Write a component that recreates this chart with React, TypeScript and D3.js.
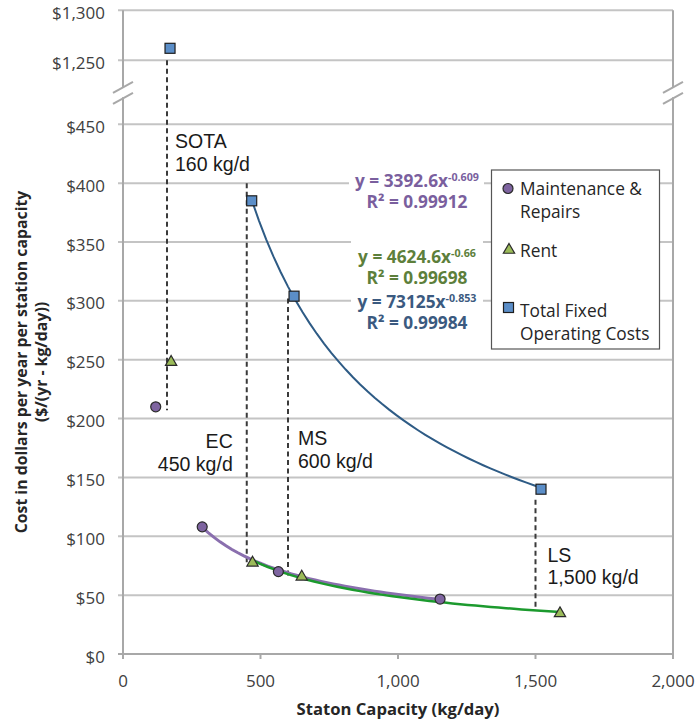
import React, { useEffect, useRef } from 'react';
import * as d3 from 'd3';

// station capacity (kg/day) vs cost ($ per yr per kg/day)
const maintCapacity = [119, 288, 565, 1153];
const maintCost = [210, 108, 70, 46.7];
const rentCapacity = [175, 471, 650, 1589];
const rentCost = [248, 77.5, 65.6, 34.5];
const totalCapacity = [171, 468, 622, 1520];
const totalCost = [1262, 385, 304, 140];

// power-law trendlines as printed: y = a * x^b (SOTA point left out)
const maintFit = { a: 3392.6, b: -0.609, r2: '0.99912' };
const rentFit = { a: 4624.6, b: -0.66, r2: '0.99698' };
const totalFit = { a: 73125, b: -0.853, r2: '0.99984' };

// station reference lines
const stationNames = ['SOTA', 'EC', 'MS', 'LS'];
const stationSizes = ['160 kg/d', '450 kg/d', '600 kg/d', '1,500 kg/d'];
const stationCapacity = [160, 450, 600, 1500];
const stationTop = [1250, 400, 302, 131];
const stationBottom = [207, 78, 65, 37];

const capacityTicks = [0, 500, 1000, 1500, 2000];
const costTicks = [0, 50, 100, 150, 200, 250, 300, 350, 400, 450, 1250, 1300];

const W = 698;
const H = 723;
const calibri = "'Open Sans', Lato, sans-serif";
const arial = "'Liberation Sans', Arial, sans-serif";

function App() {
    const ref = useRef<SVGSVGElement>(null);

    useEffect(() => {
        const svg = d3.select(ref.current);
        svg.selectAll('*').remove();

        // size a font so that a sample string gets the width seen in the original
        const fit = (sample: string, family: string, weight: string, width: number) => {
            const probe = svg.append('text')
                .attr('font-family', family)
                .attr('font-weight', weight)
                .attr('font-size', 20)
                .text(sample);
            const w = (probe.node() as SVGTextElement).getComputedTextLength();
            probe.remove();
            return w > 0 ? 20 * width / w : 16;
        };
        const tickSize = fit('$1,300', calibri, 'normal', 53);
        const xTitleSize = fit('Staton Capacity (kg/day)', calibri, 'bold', 203);
        const yTitleSize = fit('Cost in dollars per year per station capacity', calibri, 'bold', 343);
        const eqSize = fit('R\u00B2 = 0.99912', calibri, 'bold', 101);
        const legendSize = fit('Maintenance &', calibri, 'normal', 122);
        const noteSize = fit('450 kg/d', arial, 'normal', 75);

        const x = d3.scaleLinear().domain([0, 2000]).range([123, 673]);
        // broken axis: 450 -> 1250 squeezed into one gap
        const y = d3.scaleLinear().domain([0, 450, 1250, 1300]).range([654, 124.3, 60.3, 10.3]);

        const gridColor = '#c4c4c4';
        const axisColor = '#a8a8a8';

        // gridlines + y ticks
        svg.append('g').selectAll('line')
            .data(costTicks)
            .enter()
            .append('line')
            .attr('x1', x(0) - 5)
            .attr('x2', x(2000))
            .attr('y1', d => y(d))
            .attr('y2', d => y(d))
            .attr('stroke', d => d === 0 ? axisColor : gridColor)
            .attr('stroke-width', 2);

        svg.append('g').selectAll('text')
            .data(costTicks)
            .enter()
            .append('text')
            .attr('x', x(0) - 18)
            .attr('y', d => y(d) + 2.5)
            .attr('dy', '0.36em')
            .attr('text-anchor', 'end')
            .attr('font-family', calibri)
            .attr('font-size', tickSize)
            .attr('fill', '#404040')
            .text(d => d3.format('$,.0f')(d));

        // x ticks
        svg.append('g').selectAll('line')
            .data(capacityTicks)
            .enter()
            .append('line')
            .attr('x1', d => x(d))
            .attr('x2', d => x(d))
            .attr('y1', y(0))
            .attr('y2', y(0) + 5)
            .attr('stroke', axisColor)
            .attr('stroke-width', 2);

        svg.append('g').selectAll('text')
            .data(capacityTicks)
            .enter()
            .append('text')
            .attr('x', d => x(d))
            .attr('y', y(0) + 33)
            .attr('text-anchor', 'middle')
            .attr('font-family', calibri)
            .attr('font-size', tickSize)
            .attr('fill', '#404040')
            .text(d => d3.format(',')(d));

        // left axis and right border, both with the break
        const yBreak = (y(450) + y(1250)) / 2;
        [x(0), x(2000)].forEach(xp => {
            svg.append('line')
                .attr('x1', xp).attr('x2', xp)
                .attr('y1', y(1300)).attr('y2', yBreak - 5)
                .attr('stroke', axisColor).attr('stroke-width', 2);
            svg.append('line')
                .attr('x1', xp).attr('x2', xp)
                .attr('y1', yBreak + 5).attr('y2', xp === x(0) ? y(0) + 5 : y(0))
                .attr('stroke', axisColor).attr('stroke-width', 2);
            [-5, 6].forEach(off => {
                svg.append('line')
                    .attr('x1', xp - 10).attr('y1', yBreak + off + 5.5)
                    .attr('x2', xp + 10).attr('y2', yBreak + off - 5.5)
                    .attr('stroke', axisColor).attr('stroke-width', 2);
            });
        });

        // axis titles
        svg.append('text')
            .attr('x', x(1000))
            .attr('y', 715)
            .attr('text-anchor', 'middle')
            .attr('font-family', calibri)
            .attr('font-weight', 'bold')
            .attr('font-size', xTitleSize)
            .attr('fill', '#262626')
            .text('Staton Capacity (kg/day)');

        const yTitle = svg.append('text')
            .attr('transform', 'translate(0, 362) rotate(-90)')
            .attr('text-anchor', 'middle')
            .attr('font-family', calibri)
            .attr('font-weight', 'bold')
            .attr('font-size', yTitleSize)
            .attr('fill', '#262626');
        yTitle.append('tspan').attr('x', 0).attr('y', 27).text('Cost in dollars per year per station capacity');
        yTitle.append('tspan').attr('x', 0).attr('y', 47).text('($/(yr - kg/day))');

        // trendline equations with white boxes
        const eqs = [
            { fit: maintFit, color: '#7a5f9e', y1: 186.7, y2: 208 },
            { fit: rentFit, color: '#5d7f3b', y1: 263, y2: 283.5 },
            { fit: totalFit, color: '#3b5a80', y1: 308, y2: 329 },
        ];
        svg.append('rect').attr('x', 349).attr('y', 170).attr('width', 135).attr('height', 44).attr('fill', '#fff');
        svg.append('rect').attr('x', 351).attr('y', 238).attr('width', 132).attr('height', 96).attr('fill', '#fff');
        eqs.forEach(e => {
            const t = svg.append('text')
                .attr('x', 417).attr('y', e.y1)
                .attr('text-anchor', 'middle')
                .attr('font-family', calibri)
                .attr('font-weight', 'bold')
                .attr('font-size', eqSize)
                .attr('fill', e.color);
            t.append('tspan').text(`y = ${e.fit.a}x`);
            t.append('tspan').attr('dy', -6).attr('font-size', eqSize * 0.62).text(`${e.fit.b}`);
            svg.append('text')
                .attr('x', 417).attr('y', e.y2)
                .attr('text-anchor', 'middle')
                .attr('font-family', calibri)
                .attr('font-weight', 'bold')
                .attr('font-size', eqSize)
                .attr('fill', e.color)
                .text(`R\u00B2 = ${e.fit.r2}`);
        });

        // dashed station lines
        svg.append('g').selectAll('line')
            .data(stationCapacity)
            .enter()
            .append('line')
            .attr('x1', d => x(d))
            .attr('x2', d => x(d))
            .attr('y1', (d, i) => y(stationTop[i]))
            .attr('y2', (d, i) => y(stationBottom[i]))
            .attr('stroke', '#3a3a3a')
            .attr('stroke-width', 2)
            .attr('stroke-dasharray', '5,3.5');

        // station labels
        const labelPos = [
            { dx: 8, y: 148, anchor: 'start' },
            { dx: -14, y: 448, anchor: 'end' },
            { dx: 10, y: 445, anchor: 'start' },
            { dx: 12, y: 561.5, anchor: 'start' },
        ];
        stationNames.forEach((name, i) => {
            const p = labelPos[i];
            const t = svg.append('text')
                .attr('text-anchor', p.anchor)
                .attr('font-family', arial)
                .attr('font-size', noteSize)
                .attr('fill', '#1a1a1a');
            t.append('tspan').attr('x', x(stationCapacity[i]) + p.dx).attr('y', p.y).text(name);
            t.append('tspan').attr('x', x(stationCapacity[i]) + p.dx).attr('y', p.y + 22.5).text(stationSizes[i]);
        });

        // trendlines
        const curve = (f, xs: number[]) => {
            const lo = d3.min(xs.slice(1)) as number;
            const hi = d3.max(xs) as number;
            return d3.range(0, 41).map(k => {
                const c = lo + (hi - lo) * k / 40;
                return [c, f.a * Math.pow(c, f.b)];
            });
        };
        const line = d3.line<number[]>().x(d => x(d[0])).y(d => y(d[1]));
        [
            { pts: curve(totalFit, totalCapacity), color: '#2e5b85', w: 2 },
            { pts: curve(maintFit, maintCapacity), color: '#8a6fae', w: 3 },
            { pts: curve(rentFit, rentCapacity), color: '#1c9a2e', w: 2.5 },
        ].forEach(c => {
            svg.append('path')
                .attr('d', line(c.pts))
                .attr('fill', 'none')
                .attr('stroke', c.color)
                .attr('stroke-width', c.w);
        });

        // markers
        const drawCircle = (g, cx: number, cy: number) =>
            g.append('circle').attr('cx', cx).attr('cy', cy).attr('r', 5)
                .attr('fill', '#7e64a0').attr('stroke', '#2a2a2a').attr('stroke-width', 1.2);
        const drawTriangle = (g, cx: number, cy: number) =>
            g.append('path').attr('d', d3.symbol(d3.symbolTriangle, 55)())
                .attr('transform', `translate(${cx},${cy})`)
                .attr('fill', '#9bbb59').attr('stroke', '#2a2a2a').attr('stroke-width', 1.2);
        const drawSquare = (g, cx: number, cy: number) =>
            g.append('rect').attr('x', cx - 5).attr('y', cy - 5).attr('width', 10).attr('height', 10)
                .attr('fill', '#5b8ec8').attr('stroke', '#1e1e1e').attr('stroke-width', 1.2);

        const marks = svg.append('g');
        maintCapacity.forEach((c, i) => drawCircle(marks, x(c), y(maintCost[i])));
        rentCapacity.forEach((c, i) => drawTriangle(marks, x(c), y(rentCost[i])));
        totalCapacity.forEach((c, i) => drawSquare(marks, x(c), y(totalCost[i])));

        // legend
        const lg = svg.append('g');
        lg.append('rect')
            .attr('x', 491.5).attr('y', 170).attr('width', 168).attr('height', 179)
            .attr('fill', '#fff').attr('stroke', '#555').attr('stroke-width', 1.2);
        drawCircle(lg, 508, 188.5);
        drawTriangle(lg, 509, 250);
        drawSquare(lg, 508.5, 307.5);
        const legendText = [
            { lines: ['Maintenance &', 'Repairs'], y: 195 },
            { lines: ['Rent'], y: 256.5 },
            { lines: ['Total Fixed', 'Operating Costs'], y: 316.5 },
        ];
        legendText.forEach(l => {
            const t = lg.append('text')
                .attr('font-family', calibri)
                .attr('font-size', legendSize)
                .attr('fill', '#262626');
            l.lines.forEach((s, k) => {
                t.append('tspan').attr('x', 520).attr('y', l.y + k * 23).text(s);
            });
        });
    }, []);

    return (
        <svg ref={ref} width={W} height={H}
             style={{ position: 'absolute', left: 0, top: 0, background: '#fff' }}></svg>
    );
}

export default App;
